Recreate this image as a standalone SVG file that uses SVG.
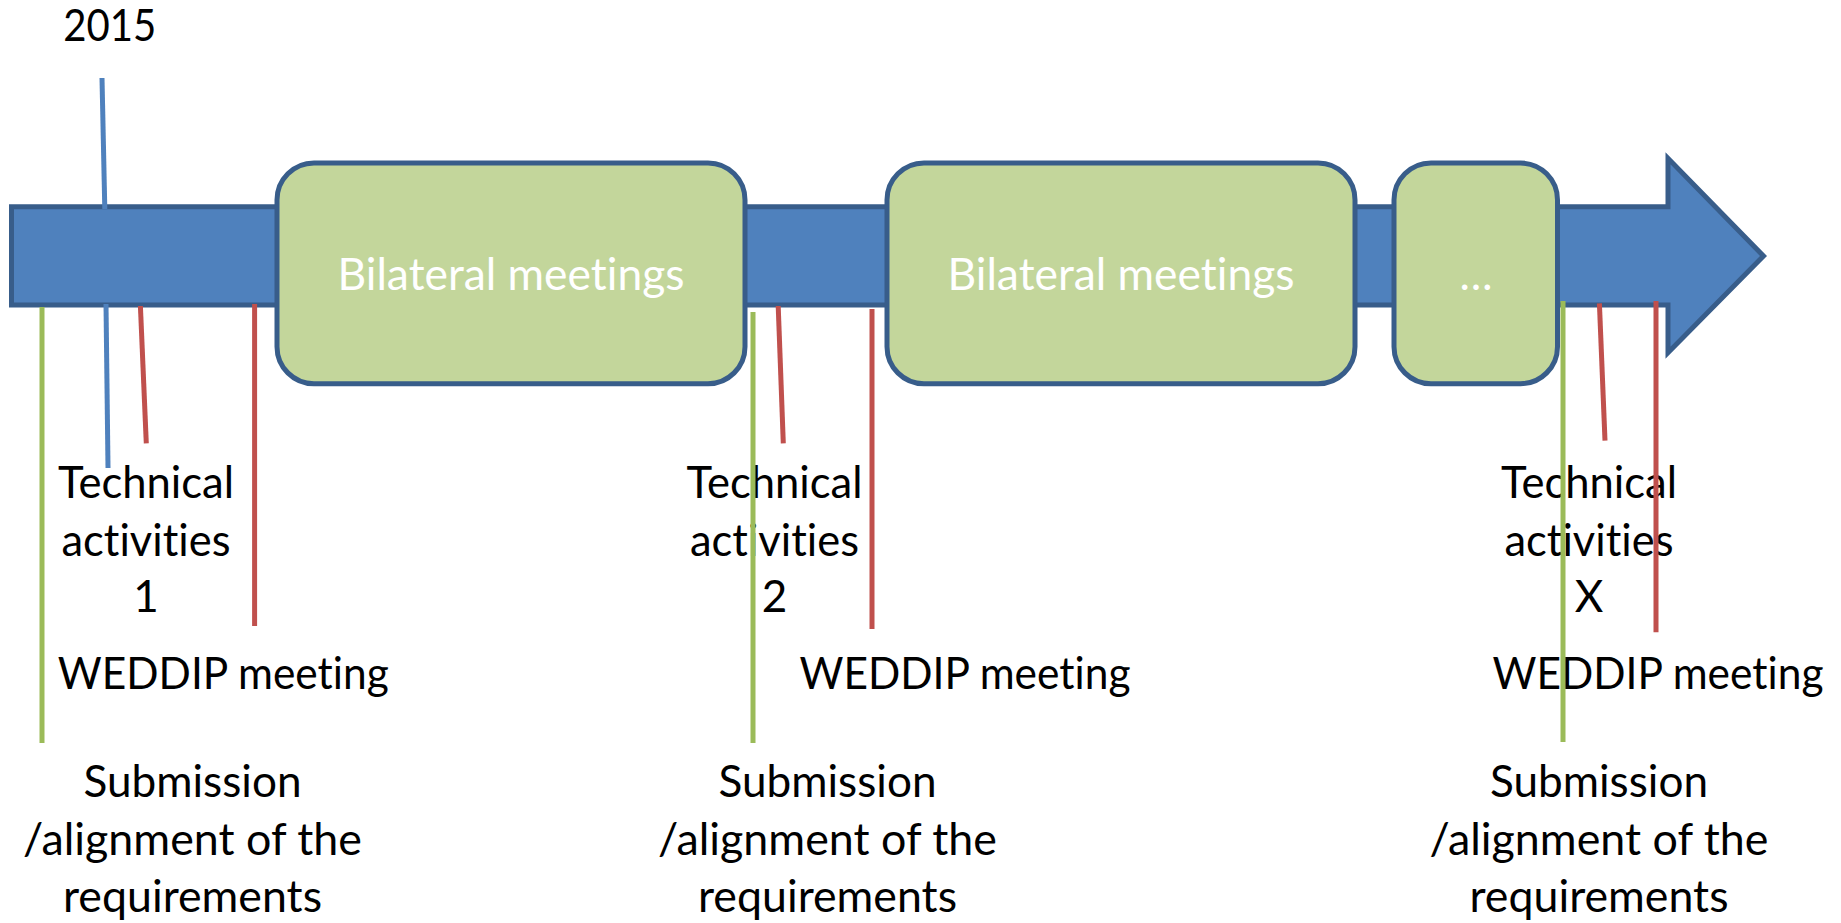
<svg xmlns="http://www.w3.org/2000/svg" width="1841" height="923" viewBox="0 0 1841 923">
<style>
.lbl,.wht{font-family:Lato,"Carlito","Open Sans","Liberation Sans",sans-serif;font-size:44px;text-anchor:middle;font-variant-ligatures:none;font-feature-settings:"liga" 0,"clig" 0}
.lbl{fill:#000}
.wht{fill:#fff}
.box{fill:#C3D69B;stroke:#385D8A;stroke-width:5}
.bar{fill:#4F81BD;stroke:#385D8A;stroke-width:5}
.ln{stroke-width:5;fill:none}
.g{stroke:#9BBB59}
.r{stroke:#C0504D}
.b{stroke:#4F81BD}
</style>
<g id="timeline-arrow">
<path class="bar" d="M11.5,206.7 H1668 V158.3 L1763.5,256 L1668,352.7 V305 H11.5 Z"/>
</g>
<g id="box-bilateral-1">
<rect class="box" x="277" y="163" width="468" height="220.7" rx="37"/>
<text class="wht" x="511" y="290" textLength="347" lengthAdjust="spacingAndGlyphs">Bilateral meetings</text>
</g>
<g id="box-bilateral-2">
<rect class="box" x="887" y="163" width="468" height="220.7" rx="37"/>
<text class="wht" x="1121" y="290" textLength="347" lengthAdjust="spacingAndGlyphs">Bilateral meetings</text>
</g>
<g id="box-more">
<rect class="box" x="1394" y="163" width="163.5" height="220.7" rx="37"/>
<text class="wht" x="1476" y="290">…</text>
</g>
<g id="label-2015">
<text class="lbl" x="109.7" y="40.7" textLength="93" lengthAdjust="spacingAndGlyphs">2015</text>
</g>
<g id="label-tech-1">
<text class="lbl" x="146" y="498.3" textLength="176" lengthAdjust="spacingAndGlyphs">Technical</text>
<text class="lbl" x="146" y="555.7" textLength="169" lengthAdjust="spacingAndGlyphs">activities</text>
<text class="lbl" x="146" y="612">1</text>
</g>
<g id="label-weddip-1">
<text class="lbl" x="223.3" y="689.3" textLength="331" lengthAdjust="spacingAndGlyphs">WEDDIP meeting</text>
</g>
<g id="label-sub-1">
<text class="lbl" x="192.5" y="796.7" textLength="218" lengthAdjust="spacingAndGlyphs">Submission</text>
<text class="lbl" x="192.5" y="855" textLength="339" lengthAdjust="spacingAndGlyphs">/alignment of the</text>
<text class="lbl" x="192.5" y="912" textLength="259" lengthAdjust="spacingAndGlyphs">requirements</text>
</g>
<g id="label-tech-2">
<text class="lbl" x="774.5" y="498.3" textLength="176" lengthAdjust="spacingAndGlyphs">Technical</text>
<text class="lbl" x="774.5" y="555.7" textLength="169" lengthAdjust="spacingAndGlyphs">activities</text>
<text class="lbl" x="774.5" y="612">2</text>
</g>
<g id="label-weddip-2">
<text class="lbl" x="965" y="689.3" textLength="331" lengthAdjust="spacingAndGlyphs">WEDDIP meeting</text>
</g>
<g id="label-sub-2">
<text class="lbl" x="827.5" y="796.7" textLength="218" lengthAdjust="spacingAndGlyphs">Submission</text>
<text class="lbl" x="827.5" y="855" textLength="339" lengthAdjust="spacingAndGlyphs">/alignment of the</text>
<text class="lbl" x="827.5" y="912" textLength="259" lengthAdjust="spacingAndGlyphs">requirements</text>
</g>
<g id="label-tech-x">
<text class="lbl" x="1589" y="498.3" textLength="176" lengthAdjust="spacingAndGlyphs">Technical</text>
<text class="lbl" x="1589" y="555.7" textLength="169" lengthAdjust="spacingAndGlyphs">activities</text>
<text class="lbl" x="1589" y="612">X</text>
</g>
<g id="label-weddip-x">
<text class="lbl" x="1658" y="689.3" textLength="331" lengthAdjust="spacingAndGlyphs">WEDDIP meeting</text>
</g>
<g id="label-sub-x">
<text class="lbl" x="1599" y="796.7" textLength="218" lengthAdjust="spacingAndGlyphs">Submission</text>
<text class="lbl" x="1599" y="855" textLength="339" lengthAdjust="spacingAndGlyphs">/alignment of the</text>
<text class="lbl" x="1599" y="912" textLength="259" lengthAdjust="spacingAndGlyphs">requirements</text>
</g>
<g id="connectors">
<line class="ln b" x1="102" y1="78" x2="104.8" y2="209"/>
<line class="ln b" x1="106" y1="304" x2="108" y2="468"/>
<line class="ln g" x1="42" y1="307" x2="42" y2="743"/>
<line class="ln r" x1="140.4" y1="306" x2="146.3" y2="443.3"/>
<line class="ln r" x1="254.6" y1="304" x2="254.6" y2="626"/>
<line class="ln g" x1="753" y1="312" x2="753" y2="743"/>
<line class="ln r" x1="778.2" y1="306" x2="783.3" y2="443.3"/>
<line class="ln r" x1="872" y1="309" x2="872" y2="629"/>
<line class="ln g" x1="1563" y1="301" x2="1563" y2="742"/>
<line class="ln r" x1="1599.4" y1="303.3" x2="1605" y2="440.7"/>
<line class="ln r" x1="1656" y1="301" x2="1656" y2="632.3"/>
</g>
</svg>
